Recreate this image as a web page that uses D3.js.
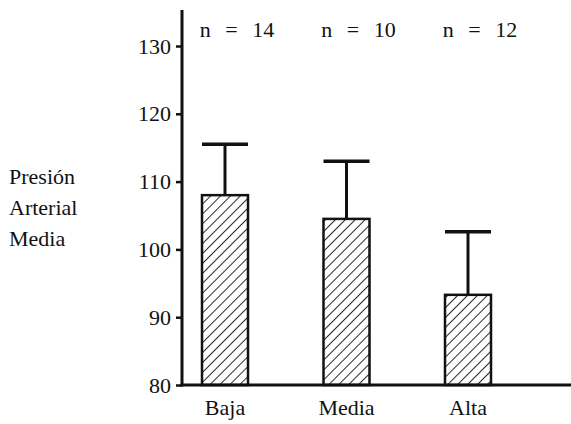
<!DOCTYPE html>
<html>
<head>
<meta charset="utf-8">
<script src="https://cdn.jsdelivr.net/npm/d3@7/dist/d3.min.js"></script>
</head>
<body style="margin:0">
<svg id="chart" width="571" height="424"></svg>
<script>
const categories = ["Baja", "Media", "Alta"];
const means = [108, 104.5, 93.3];
const errors = [7.5, 8.5, 9.3];
const nValues = [14, 10, 12];
const yTicks = [80, 90, 100, 110, 120, 130];
const yTitle = ["Presión", "Arterial", "Media"];

const FONT = "'Liberation Serif'";
const FS = "22px";

const svg = d3.select("#chart");
const axisX = 182;

const y = d3.scaleLinear().domain([80, 130]).range([385, 46]);
const x = d3.scalePoint().domain(categories).range([225, 468]);
const barW = 46;
const base = y(80);

// hatch pattern
const defs = svg.append("defs");
const pat = defs.append("pattern")
  .attr("id", "hatch")
  .attr("patternUnits", "userSpaceOnUse")
  .attr("width", 7).attr("height", 7)
  .attr("patternTransform", "rotate(45)");
pat.append("line")
  .attr("x1", 0).attr("y1", 0).attr("x2", 0).attr("y2", 7)
  .attr("stroke", "#111").attr("stroke-width", 1.8);

// y axis
const yAxis = svg.append("g")
  .attr("transform", `translate(${axisX},0)`)
  .call(d3.axisLeft(y).tickValues(yTicks).tickSize(6).tickPadding(5));
yAxis.attr("font-family", null).attr("font-size", null);
yAxis.select(".domain").remove();
yAxis.selectAll(".tick line").attr("stroke", "#111").attr("stroke-width", 2.5);
yAxis.selectAll(".tick text")
  .style("font-family", FONT)
  .style("font-size", FS)
  .attr("fill", "#111");

svg.append("line")
  .attr("x1", axisX).attr("x2", axisX)
  .attr("y1", 10).attr("y2", base + 1.5)
  .attr("stroke", "#111").attr("stroke-width", 3);

svg.append("line")
  .attr("x1", axisX - 1.5).attr("x2", 571)
  .attr("y1", base).attr("y2", base)
  .attr("stroke", "#111").attr("stroke-width", 3);

// error bars
const eb = svg.append("g");
categories.forEach((c, i) => {
  const cx = x(c);
  eb.append("line")
    .attr("x1", cx).attr("x2", cx)
    .attr("y1", y(means[i])).attr("y2", y(means[i] + errors[i]))
    .attr("stroke", "#111").attr("stroke-width", 3);
  eb.append("line")
    .attr("x1", cx - barW / 2).attr("x2", cx + barW / 2)
    .attr("y1", y(means[i] + errors[i])).attr("y2", y(means[i] + errors[i]))
    .attr("stroke", "#111").attr("stroke-width", 3.5);
});

// bars
svg.append("g").selectAll("rect")
  .data(categories)
  .join("rect")
  .attr("x", c => x(c) - barW / 2)
  .attr("width", barW)
  .attr("y", (c, i) => y(means[i]))
  .attr("height", (c, i) => base - y(means[i]))
  .attr("fill", "url(#hatch)")
  .attr("stroke", "#111")
  .attr("stroke-width", 2.5);

// category labels
svg.append("g").selectAll("text")
  .data(categories)
  .join("text")
  .attr("x", c => x(c))
  .attr("y", 415)
  .attr("text-anchor", "middle")
  .style("font-family", FONT)
  .style("font-size", FS)
  .attr("fill", "#111")
  .text(c => c);

// n labels
svg.append("g").selectAll("text")
  .data(categories)
  .join("text")
  .attr("x", c => x(c) + 12)
  .attr("y", 37)
  .attr("text-anchor", "middle")
  .style("font-family", FONT)
  .style("font-size", FS)
  .style("word-spacing", "9px")
  .attr("fill", "#111")
  .text((c, i) => `n = ${nValues[i]}`);

// y title
svg.append("g").selectAll("text")
  .data(yTitle)
  .join("text")
  .attr("x", 9)
  .attr("y", (d, i) => 184 + i * 31)
  .style("font-family", FONT)
  .style("font-size", FS)
  .attr("fill", "#111")
  .text(d => d);
</script>
</body>
</html>
